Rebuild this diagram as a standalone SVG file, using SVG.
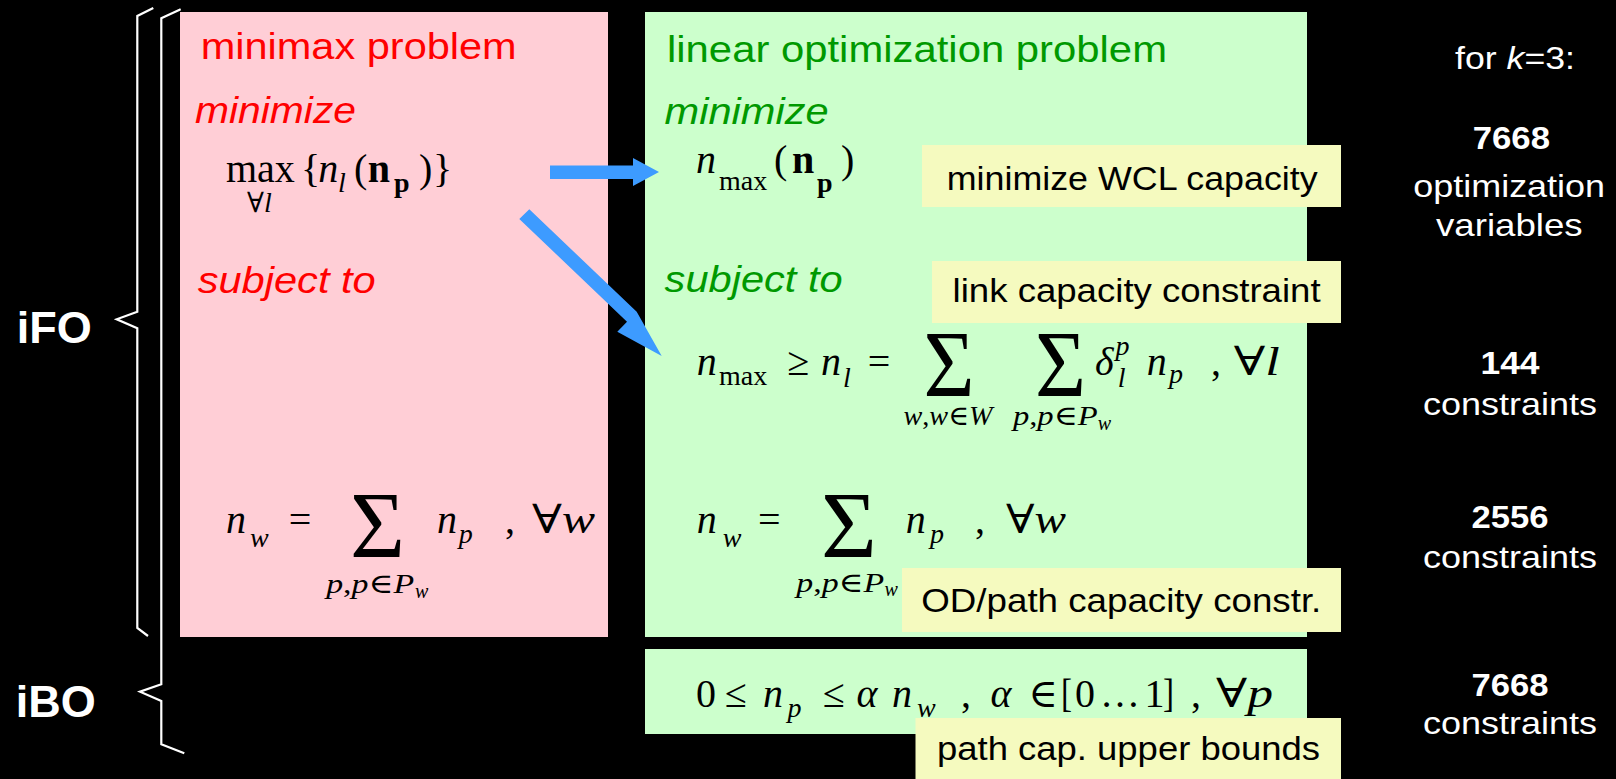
<svg xmlns="http://www.w3.org/2000/svg" width="1616" height="779" viewBox="0 0 1616 779">
<style>
.sans{font-family:"Liberation Sans",Arial,sans-serif}
.m{font-family:"Liberation Serif","DejaVu Serif",serif;font-size:40px;fill:#000}
.ms{font-family:"Liberation Serif","DejaVu Serif",serif;font-size:28px;fill:#000}
.mss{font-family:"Liberation Serif","DejaVu Serif",serif;font-size:20px;fill:#000}
.sig{font-family:"Liberation Serif","DejaVu Serif",serif;font-size:96px;fill:#000}
.i{font-style:italic}
.b{font-weight:bold}
.title{font-size:36px}
.red{fill:#FF0000}
.grn{fill:#009900}
.note{font-family:"Liberation Sans",Arial,sans-serif;font-size:34px;fill:#000}
.stat{font-family:"Liberation Sans",Arial,sans-serif;font-size:32px;fill:#fff}
.brace{fill:none;stroke:#fff;stroke-width:2.2;stroke-linejoin:miter}
.arrow{fill:#3D9BFF}
</style>
<rect x="0" y="0" width="1616" height="779" fill="#000"/>

<g id="brace-iFO">
<polyline class="brace" points="153.3,8 137.3,16 137.3,311.7 116.7,319.3 137.3,328.3 137.3,628 148,636"/>
<text class="sans b" x="16.7" y="342.7" font-size="45" fill="#fff">iFO</text>
</g>
<g id="brace-iBO">
<polyline class="brace" points="180.7,9.3 161.3,18.3 161.3,684.3 140,691.7 161.3,701 161.3,744.3 184.3,753.3"/>
<text class="sans b" x="15.8" y="716.7" font-size="45" fill="#fff">iBO</text>
</g>

<g id="minimax">
<rect x="180" y="12" width="428" height="625" fill="#FFCED6"/>
<text class="sans title red" x="200.7" y="59.3" textLength="316" lengthAdjust="spacingAndGlyphs">minimax problem</text>
<text class="sans title red i" x="195" y="122.7" textLength="161" lengthAdjust="spacingAndGlyphs">minimize</text>
<text class="m" x="226" y="181.7">max</text>
<text class="ms" x="247" y="211.7">∀<tspan class="i">l</tspan></text>
<text class="m" x="301" y="181.7">{</text>
<text class="m i" x="318.3" y="181.7">n</text>
<text class="ms i" x="338" y="191.7">l</text>
<text class="m" x="354" y="181.7">(</text>
<text class="m b" x="367.7" y="181.7">n</text>
<text class="ms b" x="394" y="191.7">p</text>
<text class="m" x="419" y="181.7">)</text>
<text class="m" x="433" y="181.7">}</text>
<text class="sans title red i" x="197.7" y="293" textLength="178" lengthAdjust="spacingAndGlyphs">subject to</text>
<text class="m i" x="226" y="533.3">n</text>
<text class="ms i" x="250" y="546.7">w</text>
<text class="m" x="288.7" y="533.3">=</text>
<text class="sig" x="350" y="558.3" textLength="55" lengthAdjust="spacingAndGlyphs">Σ</text>
<text class="m i" x="437" y="533.3">n</text>
<text class="ms i" x="458.7" y="543.3">p</text>
<text class="m" x="505" y="533.3">,</text>
<text class="m" x="532" y="533.3" textLength="63" lengthAdjust="spacingAndGlyphs">∀<tspan class="i">w</tspan></text>
<text class="ms" x="326.2" y="593.3" textLength="88" lengthAdjust="spacingAndGlyphs"><tspan class="i">p</tspan>,<tspan class="i">p</tspan>∈<tspan class="i">P</tspan></text>
<text class="mss i" x="415" y="597.5">w</text>
</g>

<g id="linear-opt">
<rect x="645" y="12" width="662" height="625" fill="#CCFFCC"/>
<text class="sans title grn" x="667" y="61.7" textLength="500" lengthAdjust="spacingAndGlyphs">linear optimization problem</text>
<text class="sans title grn i" x="664.6" y="124" textLength="164" lengthAdjust="spacingAndGlyphs">minimize</text>
<text class="m i" x="695.9" y="172.7">n</text>
<text class="ms" x="719" y="190">max</text>
<text class="m" x="774" y="172.7">(</text>
<text class="m b" x="792" y="172.7">n</text>
<text class="ms b" x="817" y="191.7">p</text>
<text class="m" x="841" y="172.7">)</text>
<text class="sans title grn i" x="664.6" y="291.7" textLength="178" lengthAdjust="spacingAndGlyphs">subject to</text>

<text class="m i" x="696.8" y="375">n</text>
<text class="ms" x="719" y="385">max</text>
<text class="m" x="787.4" y="375">≥</text>
<text class="m i" x="821" y="375">n</text>
<text class="ms i" x="843" y="386.7">l</text>
<text class="m" x="867.8" y="375">=</text>
<text class="sig" x="923.6" y="396.7" textLength="51" lengthAdjust="spacingAndGlyphs">Σ</text>
<text class="ms" x="903.5" y="425" textLength="89" lengthAdjust="spacingAndGlyphs"><tspan class="i">w</tspan>,<tspan class="i">w</tspan>∈<tspan class="i">W</tspan></text>
<text class="sig" x="1035" y="396.7" textLength="51" lengthAdjust="spacingAndGlyphs">Σ</text>
<text class="ms" x="1012.9" y="425" textLength="84.8" lengthAdjust="spacingAndGlyphs"><tspan class="i">p</tspan>,<tspan class="i">p</tspan>∈<tspan class="i">P</tspan></text>
<text class="mss i" x="1097.7" y="430">w</text>
<text class="m i" x="1095" y="375">δ</text>
<text class="ms i" x="1115.5" y="355">p</text>
<text class="ms i" x="1117.8" y="387">l</text>
<text class="m i" x="1146.8" y="375">n</text>
<text class="ms i" x="1169" y="383.3">p</text>
<text class="m" x="1211" y="375">,</text>
<text class="m" x="1233.8" y="375" textLength="46" lengthAdjust="spacingAndGlyphs">∀<tspan class="i">l</tspan></text>

<text class="m i" x="696.8" y="533.3">n</text>
<text class="ms i" x="722.7" y="546.7">w</text>
<text class="m" x="758" y="533.3">=</text>
<text class="sig" x="820.9" y="558.3" textLength="55.8" lengthAdjust="spacingAndGlyphs">Σ</text>
<text class="m i" x="905.7" y="533.3">n</text>
<text class="ms i" x="930" y="543.3">p</text>
<text class="m" x="975" y="533.3">,</text>
<text class="m" x="1006" y="533.3" textLength="60" lengthAdjust="spacingAndGlyphs">∀<tspan class="i">w</tspan></text>
<text class="ms" x="796.3" y="591.7" textLength="88" lengthAdjust="spacingAndGlyphs"><tspan class="i">p</tspan>,<tspan class="i">p</tspan>∈<tspan class="i">P</tspan></text>
<text class="mss i" x="884.5" y="596">w</text>
</g>

<g id="bounds">
<rect x="645" y="649" width="662" height="85" fill="#CCFFCC"/>
<text class="m" x="696" y="706.7">0</text>
<text class="m" x="725" y="706.7">≤</text>
<text class="m i" x="763" y="706.7">n</text>
<text class="ms i" x="787.4" y="716.7">p</text>
<text class="m" x="823" y="706.7">≤</text>
<text class="m i" x="856.6" y="706.7">α</text>
<text class="m i" x="892" y="706.7">n</text>
<text class="ms i" x="917" y="716.7">w</text>
<text class="m" x="961" y="706.7">,</text>
<text class="m i" x="990.5" y="706.7">α</text>
<text class="m" x="1028.5" y="706.7">∈</text>
<text class="m" x="1061" y="706.7" font-size="60" textLength="11" lengthAdjust="spacingAndGlyphs">[</text>
<text class="m" x="1075" y="706.7">0</text>
<text class="m" x="1100" y="706.7">…</text>
<text class="m" x="1144.5" y="706.7">1</text>
<text class="m" x="1163" y="706.7" font-size="60" textLength="11" lengthAdjust="spacingAndGlyphs">]</text>
<text class="m" x="1191" y="706.7">,</text>
<text class="m" x="1216" y="706.7" textLength="57" lengthAdjust="spacingAndGlyphs">∀<tspan class="i">p</tspan></text>
</g>

<g id="note-wcl">
<rect x="922" y="145" width="419" height="62" fill="#F5FABF"/>
<text class="note" x="946.7" y="190" textLength="371" lengthAdjust="spacingAndGlyphs">minimize WCL capacity</text>
</g>
<g id="note-link">
<rect x="932" y="261" width="409" height="62" fill="#F5FABF"/>
<text class="note" x="952.6" y="301.7" textLength="368" lengthAdjust="spacingAndGlyphs">link capacity constraint</text>
</g>
<g id="note-od">
<rect x="902" y="568" width="439" height="64" fill="#F5FABF"/>
<text class="note" x="921.3" y="611.7" textLength="400" lengthAdjust="spacingAndGlyphs">OD/path capacity constr.</text>
</g>
<g id="note-path">
<rect x="915.5" y="718" width="425.5" height="61" fill="#F5FABF"/>
<text class="note" x="937" y="760" textLength="383" lengthAdjust="spacingAndGlyphs">path cap. upper bounds</text>
</g>

<g id="stats">
<text class="stat" x="1455" y="69.3" textLength="120" lengthAdjust="spacingAndGlyphs">for <tspan font-style="italic">k</tspan>=3:</text>
<text class="stat b" x="1472.7" y="149.3" textLength="77.3" lengthAdjust="spacingAndGlyphs">7668</text>
<text class="stat" x="1413.3" y="196.7" textLength="191.7" lengthAdjust="spacingAndGlyphs">optimization</text>
<text class="stat" x="1436" y="236" textLength="146.7" lengthAdjust="spacingAndGlyphs">variables</text>
<text class="stat b" x="1480.5" y="374" textLength="59" lengthAdjust="spacingAndGlyphs">144</text>
<text class="stat" x="1423" y="415" textLength="174" lengthAdjust="spacingAndGlyphs">constraints</text>
<text class="stat b" x="1471.5" y="528" textLength="77" lengthAdjust="spacingAndGlyphs">2556</text>
<text class="stat" x="1423" y="568" textLength="174" lengthAdjust="spacingAndGlyphs">constraints</text>
<text class="stat b" x="1471.5" y="696" textLength="77" lengthAdjust="spacingAndGlyphs">7668</text>
<text class="stat" x="1423" y="734" textLength="174" lengthAdjust="spacingAndGlyphs">constraints</text>
</g>

<g id="connectors">
<polygon class="arrow" points="550,165.5 633,165.5 633,158 659,172 633,186 633,179 550,179"/>
<polygon class="arrow" points="519.3,219 529.3,209.3 636.7,311.7 661.7,356 617.3,331.7 627,321.7"/>
</g>
</svg>
